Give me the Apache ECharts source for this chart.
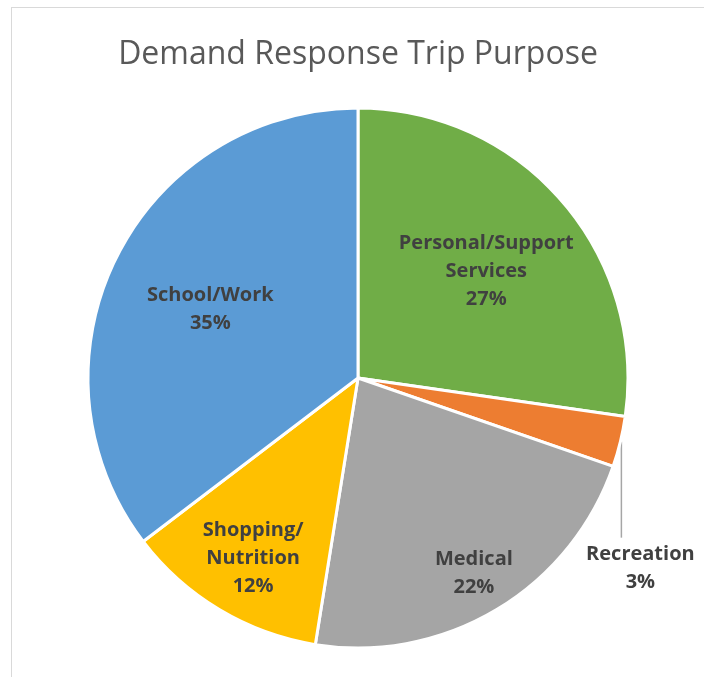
<!DOCTYPE html>
<html>
<head>
<meta charset="utf-8">
<script src="https://cdn.jsdelivr.net/npm/echarts@6/dist/echarts.min.js"></script>
<style>
html,body{margin:0;padding:0;background:#fff;}
#frame{position:absolute;left:11px;top:7px;width:720px;height:700px;border-left:1px solid #d9d9d9;border-top:1px solid #d9d9d9;}
#chart{position:absolute;left:0;top:0;width:704px;height:677px;}
</style>
</head>
<body>
<div id="frame"></div>
<div id="chart"></div>
<script>
var categories = ['Personal/Support\nServices', 'Recreation', 'Medical', 'Shopping/\nNutrition', 'School/Work'];
var values = [27, 3, 22, 12, 35];
var colors = ['#70ad47', '#ed7d31', '#a5a5a5', '#ffc000', '#5b9bd5'];
var titleText = 'Demand Response Trip Purpose';

// label nudges (style, not data)
var labelShift = [[24, -16], null, [45, 77], [-34, 62], [-24, -7]];

var total = values.reduce(function (a, b) { return a + b; }, 0);
var chart = echarts.init(document.getElementById('chart'), null, {renderer: 'canvas'});
var data = categories.map(function (c, i) {
  var d = {name: c, value: values[i], itemStyle: {color: colors[i]}};
  if (i === 1) {
    d.label = {position: 'outside'};
    d.labelLine = {show: true, lineStyle: {color: '#a6a6a6', width: 1.5}};
  }
  return d;
});
chart.setOption({
  animation: false,
  title: {
    text: titleText, left: 353, textAlign: 'center', top: 34,
    textStyle: {fontFamily: 'Open Sans', fontWeight: 'normal', fontSize: 32, color: '#595959'}
  },
  series: [{
    type: 'pie',
    center: [358, 378],
    radius: [0, 270],
    startAngle: 90,
    clockwise: true,
    avoidLabelOverlap: false,
    itemStyle: {borderColor: '#ffffff', borderWidth: 3},
    label: {
      show: true,
      position: 'inside',
      formatter: function (p) { return p.name + '\n' + Math.round(p.value / total * 100) + '%'; },
      fontFamily: 'Open Sans',
      fontWeight: 'bold',
      fontSize: 20,
      lineHeight: 28,
      color: '#404040',
      align: 'center'
    },
    labelLine: {show: false},
    labelLayout: function (params) {
      var i = params.dataIndex;
      if (i === 1) {
        var p = params.labelLinePoints;
        if (!p) return {};
        var ax = p[0][0], ay = p[0][1];
        return {
          x: ax + 20, y: ay + 127, align: 'center', verticalAlign: 'middle',
          labelLinePoints: [[ax + 1, ay], [ax + 1, ay + 48], [ax + 1, ay + 96]]
        };
      }
      var s = labelShift[i];
      return s ? {dx: s[0], dy: s[1]} : {};
    },
    data: data
  }]
});
</script>
</body>
</html>
